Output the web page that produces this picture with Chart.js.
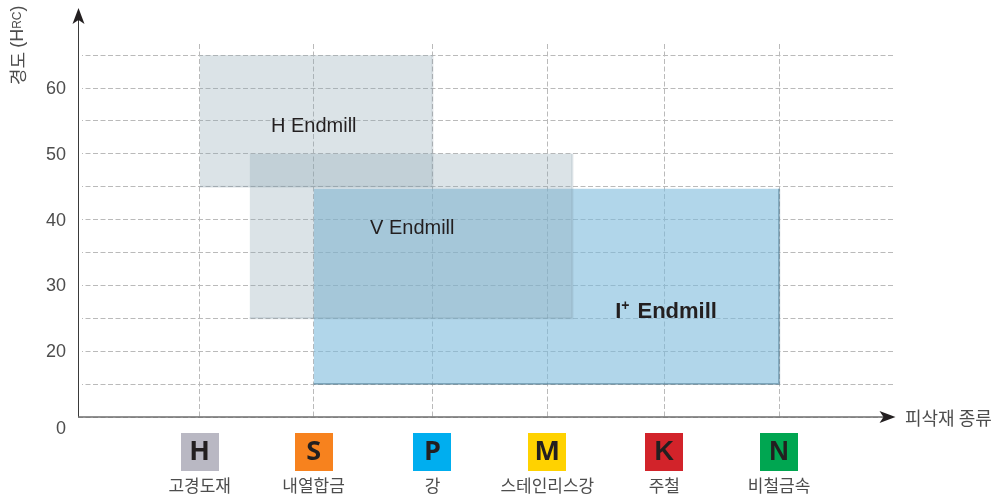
<!DOCTYPE html>
<html lang="ko">
<head>
<meta charset="utf-8">
<title>경도 / 피삭재 종류</title>
<script src="https://cdn.jsdelivr.net/npm/chart.js@4"></script>
<style>
    html, body { margin: 0; padding: 0; background: #fff; }
    canvas { display: block; }
</style>
</head>
<body>
<canvas id="endmillChart" width="995" height="499"></canvas>
<script>
// Données
const materialCodes = ['H', 'S', 'P', 'M', 'K', 'N'];
const materialNames = ['고경도재', '내열합금', '강', '스테인리스강', '주철', '비철금속'];
const materialColors = ['#b9b8c3', '#f7821e', '#00aeef', '#ffd200', '#d2232a', '#00a651'];
const materialPositions = [0, 0.983, 2.009, 3, 4.009, 5];
const hardnessTicks = [10, 15, 20, 25, 30, 35, 40, 45, 50, 55, 60, 65];

const hRangeX = [0, 2.009];
const hRangeY = [45, 65];
const vRangeX = [0.431, 3.216];
const vRangeY = [25, 50];
const iRangeX = [0.983, 5];
const iRangeY = [15, 44.7];

const FONT_KR = '"Noto Sans CJK KR", "Noto Sans", sans-serif';
const FONT_LAT = '"Liberation Sans", Arial, sans-serif';
const TEXT_GREY = '#4d4d4d';
const GRID_GREY = '#bababa';

// Rectangle : ligne du haut remplie jusqu'au bas
function rangeFill(rx, ry, color) {
    return {
        type: 'line',
        data: [{ x: rx[0], y: ry[1] }, { x: rx[1], y: ry[1] }],
        fill: { value: ry[0] },
        backgroundColor: color,
        borderWidth: 0,
        pointRadius: 0,
        tension: 0
    };
}

// Bord ombré en bas et à droite
function rangeEdge(rx, ry, color) {
    return {
        type: 'line',
        data: [{ x: rx[0], y: ry[0] }, { x: rx[1], y: ry[0] }, { x: rx[1], y: ry[1] }],
        fill: false,
        borderColor: color,
        borderWidth: 2,
        pointRadius: 0,
        tension: 0
    };
}

function arrowHead(ctx, x, y, angle) {
    ctx.save();
    ctx.translate(x, y);
    ctx.rotate(angle);
    ctx.fillStyle = '#231f20';
    ctx.beginPath();
    ctx.moveTo(0, 0);
    ctx.lineTo(-16, -6);
    ctx.lineTo(-12, 0);
    ctx.lineTo(-16, 6);
    ctx.closePath();
    ctx.fill();
    ctx.restore();
}

// Masque le début des lignes de grille, près de l'axe
const gridGapPlugin = {
    id: 'gridGap',
    beforeDatasetsDraw(chart) {
        const { ctx, chartArea } = chart;
        ctx.fillStyle = '#fff';
        ctx.fillRect(chartArea.left, chartArea.top - 2, 4, chartArea.bottom - chartArea.top);
    }
};

const decorPlugin = {
    id: 'decor',
    afterDraw(chart) {
        const { ctx, chartArea, scales } = chart;
        const x = scales.x;
        const y = scales.y;
        ctx.save();

        // Axes et flèches
        ctx.strokeStyle = '#3a3a3a';
        ctx.lineWidth = 1;
        ctx.beginPath();
        ctx.moveTo(chartArea.left + 0.5, chartArea.bottom);
        ctx.lineTo(chartArea.left + 0.5, 20);
        ctx.stroke();
        ctx.strokeStyle = '#6d6d6d';
        ctx.lineWidth = 1.5;
        ctx.beginPath();
        ctx.moveTo(chartArea.left, chartArea.bottom);
        ctx.lineTo(chartArea.right - 10, chartArea.bottom);
        ctx.stroke();
        arrowHead(ctx, chartArea.left + 0.5, 8, -Math.PI / 2);
        arrowHead(ctx, chartArea.right + 0.5, chartArea.bottom, 0);

        // Titre de l'axe X
        ctx.textBaseline = 'middle';
        ctx.textAlign = 'left';
        ctx.fillStyle = TEXT_GREY;
        ctx.font = '18px ' + FONT_KR;
        ctx.fillText('피삭재 종류', 905, 418);

        // Origine
        ctx.textAlign = 'right';
        ctx.font = '18px ' + FONT_LAT;
        ctx.fillText('0', 66, 429);

        // Titre de l'axe Y
        ctx.save();
        ctx.translate(18, 85);
        ctx.rotate(-Math.PI / 2);
        ctx.textAlign = 'left';
        ctx.font = '18px ' + FONT_KR;
        ctx.fillText('경도 ', 0, 0);
        let pos = ctx.measureText('경도 ').width;
        ctx.font = '18px ' + FONT_LAT;
        ctx.fillText('(H', pos, 0);
        pos += ctx.measureText('(H').width;
        ctx.font = '12px ' + FONT_LAT;
        ctx.fillText('RC', pos, 0);
        pos += ctx.measureText('RC').width;
        ctx.font = '18px ' + FONT_LAT;
        ctx.fillText(')', pos, 0);
        ctx.restore();

        // Étiquettes des gammes
        ctx.fillStyle = '#231f20';
        ctx.textAlign = 'left';
        ctx.font = '20px ' + FONT_LAT;
        ctx.fillText('H Endmill', x.getPixelForValue(0.615), y.getPixelForValue(54.2));
        ctx.fillText('V Endmill', x.getPixelForValue(1.47), y.getPixelForValue(38.6));
        const iLeft = x.getPixelForValue(3.586);
        const iMid = y.getPixelForValue(25.9);
        ctx.font = 'bold 22px ' + FONT_LAT;
        ctx.fillText('I', iLeft, iMid);
        const iWidth = ctx.measureText('I').width;
        ctx.fillText(' Endmill', iLeft + iWidth + 10, iMid);
        ctx.font = 'bold 14px ' + FONT_LAT;
        ctx.fillText('+', iLeft + iWidth, iMid - 6);

        // Pastilles des matières
        materialPositions.forEach((p, i) => {
            const cx = x.getPixelForValue(p);
            ctx.fillStyle = materialColors[i];
            ctx.fillRect(Math.round(cx) - 19, 433, 38, 38);
            ctx.fillStyle = '#231f20';
            ctx.textAlign = 'center';
            ctx.font = i > 3 ? 'bold 27px ' + FONT_LAT : 'bold 27px "Open Sans", ' + FONT_LAT;
            ctx.fillText(materialCodes[i], cx, i > 3 ? 453 : 452);
        });
        ctx.restore();
    }
};

// Le premier jeu de données est dessiné au-dessus
new Chart(document.getElementById('endmillChart').getContext('2d'), {
    data: {
        datasets: [
            rangeEdge(vRangeX, vRangeY, 'rgba(110, 135, 150, 0.22)'),
            rangeFill(vRangeX, vRangeY, 'rgba(135, 162, 175, 0.3)'),
            rangeEdge(hRangeX, hRangeY, 'rgba(110, 135, 150, 0.18)'),
            rangeFill(hRangeX, hRangeY, 'rgba(135, 162, 175, 0.3)'),
            rangeEdge(iRangeX, iRangeY, 'rgba(70, 115, 140, 0.5)'),
            rangeFill(iRangeX, iRangeY, 'rgba(125, 187, 220, 0.6)')
        ]
    },
    options: {
        responsive: false,
        animation: false,
        layout: { padding: { top: 44, right: 100, left: 0, bottom: 0 } },
        plugins: {
            legend: { display: false },
            tooltip: { enabled: false }
        },
        scales: {
            x: {
                type: 'linear',
                min: -1.05,
                max: 6,
                afterFit(scale) { scale.height = 82; },
                afterBuildTicks(scale) {
                    scale.ticks = materialPositions.map(v => ({ value: v }));
                },
                grid: {
                    color: GRID_GREY,
                    lineWidth: 1,
                    drawTicks: false
                },
                border: { display: false, dash: [5, 2.5] },
                ticks: {
                    autoSkip: false,
                    maxRotation: 0,
                    padding: 58,
                    color: TEXT_GREY,
                    font: { family: FONT_KR, size: 17 },
                    callback: function(value, index) {
                        return materialNames[index];
                    }
                }
            },
            y: {
                type: 'linear',
                min: 10,
                max: 66.7,
                afterFit(scale) { scale.width = 78; },
                afterBuildTicks(scale) {
                    scale.ticks = hardnessTicks.map(v => ({ value: v }));
                },
                grid: {
                    color: GRID_GREY,
                    lineWidth: 1,
                    drawTicks: false
                },
                border: { display: false, dash: [5, 2.5] },
                ticks: {
                    autoSkip: false,
                    padding: 12,
                    labelOffset: 1,
                    color: TEXT_GREY,
                    font: { family: FONT_LAT, size: 18 },
                    callback: function(value) {
                        return value % 10 === 0 && value > 10 ? value : '';
                    }
                }
            }
        }
    },
    plugins: [gridGapPlugin, decorPlugin]
});
</script>
</body>
</html>
